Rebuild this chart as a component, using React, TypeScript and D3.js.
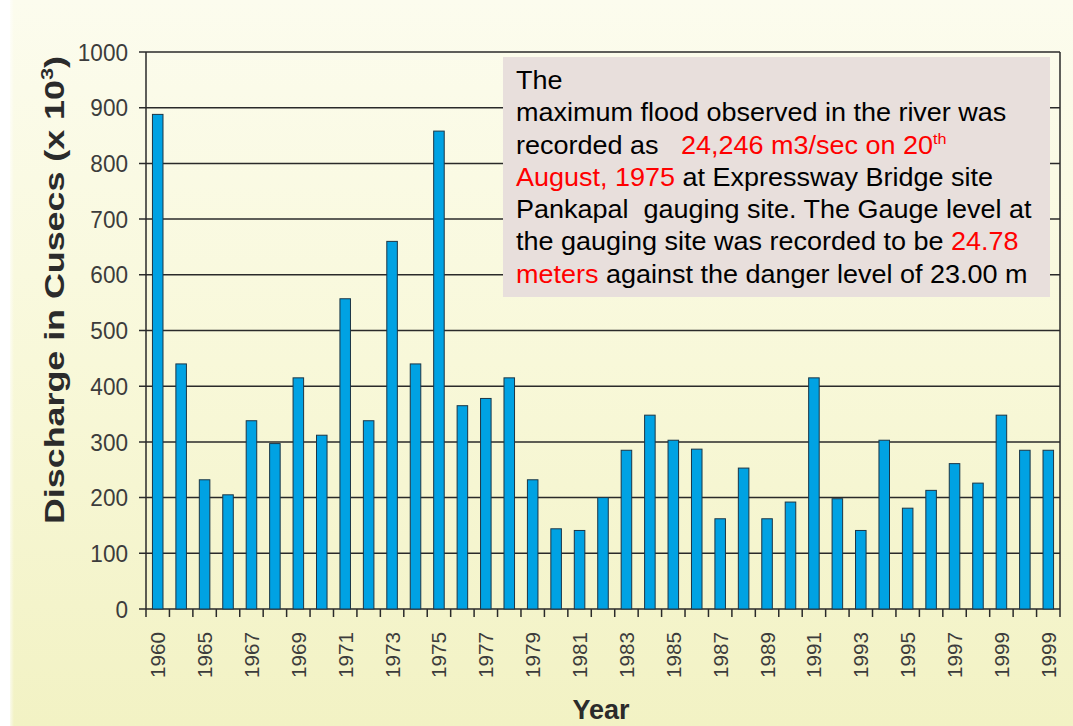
import React from 'react';
import * as d3 from 'd3';

// discharge per bar, thousands of cusecs
const discharge = [
    888, 440, 232, 205, 338, 297, 415, 312, 557, 338,
    660, 440, 858, 365, 378, 415, 232, 144, 141, 200,
    285, 348, 303, 287, 162, 253, 162, 192, 415, 198,
    141, 303, 181, 213, 261, 226, 348, 285, 285,
];

// printed under every second bar
const tickLabels = [
    '1960', '1965', '1967', '1969', '1971', '1973', '1975', '1977', '1979', '1981',
    '1983', '1985', '1987', '1989', '1991', '1993', '1995', '1997', '1999', '1999',
];

const yTicks = [0, 100, 200, 300, 400, 500, 600, 700, 800, 900, 1000];

// note box, one entry per line, [text, isRed, isSuperscript]
const noteLines = [
    [['The', false]],
    [['maximum flood observed in the river was', false]],
    [['recorded as   ', false], ['24,246 m3/sec on 20', true], ['th', true, true]],
    [['August, 1975', true], [' at Expressway Bridge site', false]],
    [['Pankapal  gauging site. The Gauge level at', false]],
    [['the gauging site was recorded to be ', false], ['24.78', true]],
    [['meters', true], [' against the danger level of 23.00 m', false]],
];

const W = 1073;
const H = 726;
const margin = { left: 146, right: 13, top: 52, bottom: 117 };

export default function App() {
    const x = d3
        .scaleBand()
        .domain(d3.range(discharge.length))
        .range([margin.left, W - margin.right])
        .paddingInner(0.55)
        .paddingOuter(0.275);
    const y = d3.scaleLinear([0, 1000], [H - margin.bottom, margin.top]);

    const step = x.step();
    const x0 = margin.left;
    const x1 = W - margin.right;
    const y0 = y(0);
    const boundaries = d3.range(discharge.length + 1).map((i) => x0 + i * step);

    const font = "'Liberation Sans', Arial, sans-serif";

    return (
        <svg
            width={W}
            height={H}
            style={{ position: 'absolute', left: 0, top: 0 }}
            fontFamily={font}
        >
            <defs>
                <linearGradient id="bg" x1="0" y1="0" x2="0" y2="1">
                    <stop offset="0" stopColor="#fcfcee" />
                    <stop offset="0.5" stopColor="#f8f8d9" />
                    <stop offset="1" stopColor="#f2f2c4" />
                </linearGradient>
                <linearGradient id="edge" x1="0" y1="0" x2="1" y2="0">
                    <stop offset="0" stopColor="#ffffff" />
                    <stop offset="1" stopColor="#ffffff" stopOpacity="0" />
                </linearGradient>
            </defs>
            <rect width={W} height={H} fill="#ffffff" />
            <rect x={10} y={0} width={W - 10} height={H} fill="url(#bg)" />
            <rect x={8} y={0} width={6} height={H} fill="url(#edge)" />

            {/* grid lines and y ticks */}
            {yTicks.map((t) => (
                <g key={t}>
                    <line x1={x0 - 7} x2={x1} y1={y(t)} y2={y(t)} stroke="#2a2a2a" strokeWidth={1.5} />
                    <text
                        x={128}
                        y={y(t)}
                        dy="0.36em"
                        textAnchor="end"
                        fontSize={24}
                        fill="#3c3c3c"
                        transform={`translate(${128},0) scale(0.94,1) translate(${-128},0)`}
                    >
                        {t}
                    </text>
                </g>
            ))}
            <line x1={x0} x2={x0} y1={y(1000)} y2={y0} stroke="#2a2a2a" strokeWidth={1.5} />
            <line x1={x1} x2={x1} y1={y(1000)} y2={y0} stroke="#2a2a2a" strokeWidth={1.5} />

            {/* bars */}
            {discharge.map((v, i) => (
                <rect
                    key={i}
                    x={x(i)}
                    y={y(v)}
                    width={x.bandwidth()}
                    height={y0 - y(v)}
                    fill="#00a2e3"
                    stroke="#1c3646"
                    strokeWidth={1}
                />
            ))}

            {/* x ticks */}
            {boundaries.map((b, i) => (
                <line key={i} x1={b} x2={b} y1={y0} y2={y0 + 8} stroke="#2a2a2a" strokeWidth={1.5} />
            ))}
            {tickLabels.map((lab, i) => {
                const cx = x(i * 2) + x.bandwidth() / 2;
                return (
                    <text
                        key={i}
                        transform={`translate(${cx + 7.5},632) rotate(-90)`}
                        textAnchor="end"
                        fontSize={21}
                        fill="#3c3c3c"
                        textLength={46}
                        lengthAdjust="spacingAndGlyphs"
                    >
                        {lab}
                    </text>
                );
            })}

            {/* axis titles */}
            <text x={601} y={719} textAnchor="middle" fontSize={27} fontWeight="bold" fill="#2b2b2b">
                Year
            </text>
            <text
                transform="translate(64,290) rotate(-90)"
                textAnchor="middle"
                fontSize={28}
                fontWeight="bold"
                fill="#2b2b2b"
                textLength={468}
                lengthAdjust="spacingAndGlyphs"
            >
                Discharge in Cusecs (x 10
                <tspan fontSize={17} dy={-11}>3</tspan>
                <tspan dy={11}>)</tspan>
            </text>

            {/* note box */}
            <rect x={503} y={57} width={547} height={240} fill="#e8dfdc" />
            <g transform="translate(516,0) scale(1.08,1) translate(-516,0)">
                {noteLines.map((line, li) => (
                    <text
                        key={li}
                        x={516}
                        y={89 + li * 32.3}
                        fontSize={25}
                        fill="#000"
                        style={{ whiteSpace: 'pre' }}
                    >
                        {line.map(([s, red, sup], k) => (
                            <tspan
                                key={k}
                                fill={red ? '#ff0000' : '#000000'}
                                fontSize={sup ? 15 : 25}
                                dy={sup ? -10 : 0}
                            >
                                {s}
                            </tspan>
                        ))}
                    </text>
                ))}
            </g>
        </svg>
    );
}
